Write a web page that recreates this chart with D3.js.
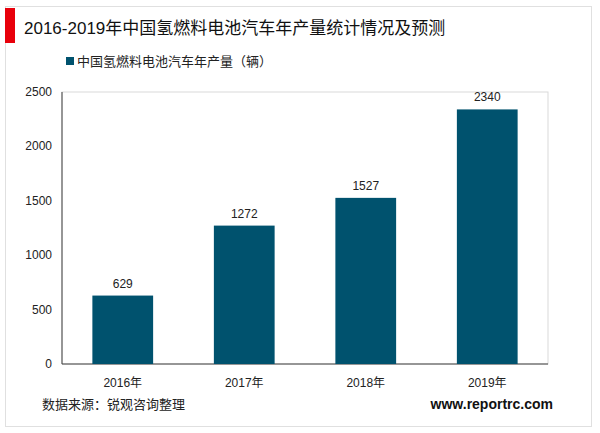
<!DOCTYPE html><html><head><meta charset="utf-8"><script src="https://cdn.jsdelivr.net/npm/d3@7"></script>
<style>body{margin:0;background:#fff}text{font-family:"Liberation Sans","Noto Sans CJK SC",Arial,sans-serif}</style></head><body><svg width="600" height="433"></svg>
<script>
const categories=["2016年","2017年","2018年","2019年"];
const values=[629,1272,1527,2340];
const yTicks=[0,500,1000,1500,2000,2500];
const svg=d3.select("svg");
const color="#00526e";
svg.append("rect").attr("x",5.5).attr("y",6.5).attr("width",586).attr("height",420).attr("fill","#fff").attr("stroke","#e0e0e0");
svg.append("rect").attr("x",5).attr("y",8).attr("width",10).attr("height",35).attr("fill","#e8000b");
svg.append("text").attr("x",24).attr("y",34).attr("font-size",17).attr("fill","#111").text("2016-2019年中国氢燃料电池汽车年产量统计情况及预测");
svg.append("rect").attr("x",66).attr("y",57).attr("width",8).attr("height",8).attr("fill",color);
svg.append("text").attr("x",77).attr("y",66).attr("font-size",13).attr("fill","#222").text("中国氢燃料电池汽车年产量（辆）");
const m={l:62,r:548,t:92,b:364};
const x=d3.scaleBand().domain(categories).range([m.l,m.r]).paddingInner(0.5).paddingOuter(0.25);
const y=d3.scaleLinear().domain([0,2500]).range([m.b,m.t]);
svg.append("rect").attr("x",m.l).attr("y",m.t).attr("width",m.r-m.l).attr("height",m.b-m.t).attr("fill","none").attr("stroke","#d9d9d9");
svg.append("line").attr("x1",m.l).attr("x2",m.l).attr("y1",m.t).attr("y2",m.b).attr("stroke","#404040");
svg.append("line").attr("x1",m.l).attr("x2",m.r).attr("y1",m.b).attr("y2",m.b).attr("stroke","#404040");
svg.selectAll(".yt").data(yTicks).join("text").attr("x",m.l-10).attr("y",d=>y(d)+4).attr("text-anchor","end").attr("font-size",12).attr("fill","#222").text(d=>d);
svg.selectAll(".bar").data(values).join("rect").attr("x",(d,i)=>x(categories[i])).attr("width",x.bandwidth()).attr("y",d=>y(d)).attr("height",d=>m.b-y(d)).attr("fill",color);
svg.selectAll(".lab").data(values).join("text").attr("x",(d,i)=>x(categories[i])+x.bandwidth()/2).attr("y",d=>y(d)-8).attr("text-anchor","middle").attr("font-size",12).attr("fill","#222").text(d=>d);
svg.selectAll(".xt").data(categories).join("text").attr("x",d=>x(d)+x.bandwidth()/2).attr("y",m.b+23).attr("text-anchor","middle").attr("font-size",12).attr("fill","#222").text(d=>d);
svg.append("text").attr("x",42).attr("y",409).attr("font-size",13).attr("fill","#222").text("数据来源：锐观咨询整理");
svg.append("text").attr("x",553).attr("y",409).attr("text-anchor","end").attr("font-size",14).attr("font-weight","bold").attr("fill","#111").text("www.reportrc.com");
</script></body></html>
